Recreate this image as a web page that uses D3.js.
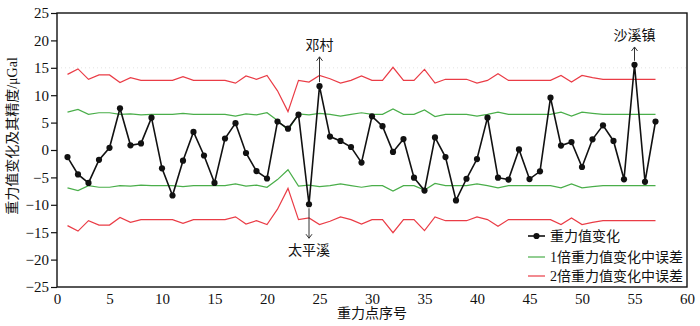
<!DOCTYPE html>
<html>
<head>
<meta charset="utf-8">
<script src="https://cdn.jsdelivr.net/npm/d3@7"></script>
<style>
  html, body { margin: 0; padding: 0; background: #fff; }
  svg { display: block; }
  text { font-family: "Liberation Serif", "Noto Sans CJK SC", serif; fill: #111; }
</style>
</head>
<body>
<svg id="chart" width="700" height="326"></svg>
<script>
// Gravity change at each survey point (μGal)
const pointIndex = d3.range(1, 58);
const gravityChange = [
  -1.3, -4.45, -6.0, -1.8, 0.4, 7.6, 0.85, 1.2, 5.9, -3.35,
  -8.3, -1.95, 3.3, -1.0, -6.0, 2.1, 4.9, -0.55, -3.85, -5.2,
  5.2, 3.9, 6.45, -9.9, 11.65, 2.45, 1.65, 0.55, -2.3, 6.15,
  4.35, -0.35, 2.0, -5.05, -7.4, 2.3, -1.3, -9.2, -5.25, -1.65,
  5.9, -5.05, -5.4, 0.1, -5.3, -3.9, 9.55, 0.8, 1.45, -3.1,
  1.95, 4.5, 1.65, -5.35, 15.55, -5.8, 5.2
];
// 1x mean error of the gravity change (plotted as ±)
const error1x = [
  6.9, 7.4, 6.5, 6.8, 6.8, 6.5, 6.6, 6.4, 6.5, 6.5,
  6.5, 6.7, 6.5, 6.5, 6.5, 6.5, 6.2, 6.6, 6.4, 6.8,
  5.4, 3.6, 6.6, 6.4, 6.7, 6.5, 6.2, 6.5, 6.8, 6.5,
  6.5, 7.5, 6.5, 6.5, 7.3, 6.1, 6.5, 6.5, 6.5, 6.2,
  6.5, 6.9, 6.5, 6.5, 6.5, 6.5, 6.5, 6.9, 6.2, 6.9,
  6.7, 6.5, 6.5, 6.5, 6.5, 6.5, 6.5
];
// 2x mean error of the gravity change (plotted as ±)
const error2x = [
  13.8, 14.8, 12.9, 13.7, 13.7, 12.3, 13.2, 12.7, 12.7, 12.7,
  12.7, 13.4, 12.7, 12.7, 12.7, 12.7, 12.2, 13.5, 12.9, 13.6,
  10.8, 7.0, 12.7, 12.4, 13.6, 13.0, 12.2, 12.7, 13.5, 12.7,
  12.7, 15.1, 12.7, 12.7, 14.7, 12.2, 12.9, 12.9, 12.9, 12.2,
  12.7, 13.9, 12.7, 12.7, 12.7, 12.7, 12.7, 13.6, 12.4, 13.6,
  13.2, 12.9, 12.9, 12.9, 12.9, 12.9, 12.9
];
const xTicks = [0, 5, 10, 15, 20, 25, 30, 35, 40, 45, 50, 55, 60];
const yTicks = [25, 20, 15, 10, 5, 0, -5, -10, -15, -20, -25];

// Named stations with their callout direction and arrow tip value
const stations = [
  { name: "邓村", index: 25, tip: 17.0, dir: "up" },
  { name: "太平溪", index: 24, tip: -16.1, dir: "down" },
  { name: "沙溪镇", index: 55, tip: 18.8, dir: "up" }
];

const legendItems = ["重力值变化", "1倍重力值变化中误差", "2倍重力值变化中误差"];

const W = 700, H = 326;
const margin = { left: 57, right: 13, top: 13, bottom: 39 };
const svg = d3.select("#chart");

const x = d3.scaleLinear().domain([0, 60]).range([margin.left, W - margin.right]);
const y = d3.scaleLinear().domain([-25, 25]).range([H - margin.bottom, margin.top]);

const BLACK = "#111", GREEN = "#4aae4a", RED = "#ea3c46";

// faint dotted reference line
svg.append("line")
  .attr("x1", x(0)).attr("x2", x(60))
  .attr("y1", y(15)).attr("y2", y(15))
  .attr("stroke", "#ddd").attr("stroke-width", 0.8)
  .attr("stroke-dasharray", "1,3");

// axes
const fmt = d => (d < 0 ? "\u2212" + Math.abs(d) : String(d));
const yAxis = svg.append("g")
  .attr("transform", `translate(${margin.left},0)`)
  .call(d3.axisLeft(y).tickValues(yTicks).tickSize(6).tickPadding(2).tickFormat(fmt));
const xAxis = svg.append("g")
  .attr("transform", `translate(0,${H - margin.bottom})`)
  .call(d3.axisBottom(x).tickValues(xTicks).tickSize(0).tickPadding(6).tickFormat(fmt));
[xAxis, yAxis].forEach(g => {
  g.select(".domain").remove();
  g.selectAll("line").attr("stroke", BLACK).attr("stroke-width", 1.2);
  g.selectAll("text").attr("font-size", 15).attr("fill", BLACK)
    .style("font-family", "'Liberation Serif', serif");
});

// error bands
const rows = pointIndex.map((p, i) => ({ p, g: gravityChange[i], e1: error1x[i], e2: error2x[i] }));
const line = acc => d3.line().x(d => x(d.p)).y(d => y(acc(d)));
const bands = [
  { acc: d => d.e2, c: RED }, { acc: d => -d.e2, c: RED },
  { acc: d => d.e1, c: GREEN }, { acc: d => -d.e1, c: GREEN }
];
bands.forEach(b => {
  svg.append("path").datum(rows)
    .attr("d", line(b.acc))
    .attr("fill", "none").attr("stroke", b.c).attr("stroke-width", 1.2);
});

// gravity change series
svg.append("path").datum(rows)
  .attr("d", line(d => d.g))
  .attr("fill", "none").attr("stroke", BLACK).attr("stroke-width", 1.6);
svg.append("g").selectAll("circle").data(rows).join("circle")
  .attr("cx", d => x(d.p)).attr("cy", d => y(d.g)).attr("r", 3.1)
  .attr("fill", BLACK);

// station callouts
const arrowHead = (xp, yp, dir) => {
  const s = dir === "up" ? 1 : -1;
  return `M${xp - 3},${yp + 4 * s}L${xp},${yp}L${xp + 3},${yp + 4 * s}`;
};
stations.forEach(s => {
  const v = gravityChange[s.index - 1];
  const xp = x(s.index);
  const start = y(v) + (s.dir === "up" ? -4 : 4);
  const tip = y(s.tip);
  svg.append("line")
    .attr("x1", xp).attr("x2", xp).attr("y1", start).attr("y2", tip)
    .attr("stroke", "#333").attr("stroke-width", 1);
  svg.append("path").attr("d", arrowHead(xp, tip, s.dir))
    .attr("fill", "none").attr("stroke", "#333").attr("stroke-width", 1);
  svg.append("text")
    .attr("x", xp).attr("y", s.dir === "up" ? tip - 7 : tip + 17)
    .attr("text-anchor", "middle").attr("font-size", 14)
    .text(s.name);
});

// frame
svg.append("rect")
  .attr("x", x(0)).attr("y", y(25))
  .attr("width", x(60) - x(0)).attr("height", y(-25) - y(25))
  .attr("fill", "none").attr("stroke", BLACK).attr("stroke-width", 1.4);

// axis titles
svg.append("text")
  .attr("transform", `translate(17,${(y(25) + y(-25)) / 2 - 14}) rotate(-90)`)
  .attr("text-anchor", "middle").attr("font-size", 14)
  .text("重力值变化及其精度/μGal");
svg.append("text")
  .attr("x", (x(0) + x(60)) / 2).attr("y", 318)
  .attr("text-anchor", "middle").attr("font-size", 14)
  .text("重力点序号");

// legend
const lg = svg.append("g").attr("transform", "translate(528,236)");
const legendColors = [BLACK, GREEN, RED];
legendItems.forEach((label, i) => {
  const yy = [0, 21, 40][i];
  lg.append("line").attr("x1", 0).attr("x2", 17).attr("y1", yy).attr("y2", yy)
    .attr("stroke", legendColors[i]).attr("stroke-width", i === 0 ? 1.6 : 1.2);
  if (i === 0) lg.append("circle").attr("cx", 8.5).attr("cy", yy).attr("r", 3.1).attr("fill", BLACK);
  lg.append("text").attr("x", 22).attr("y", yy + 5).attr("font-size", 14).text(label);
});
</script>
</body>
</html>
